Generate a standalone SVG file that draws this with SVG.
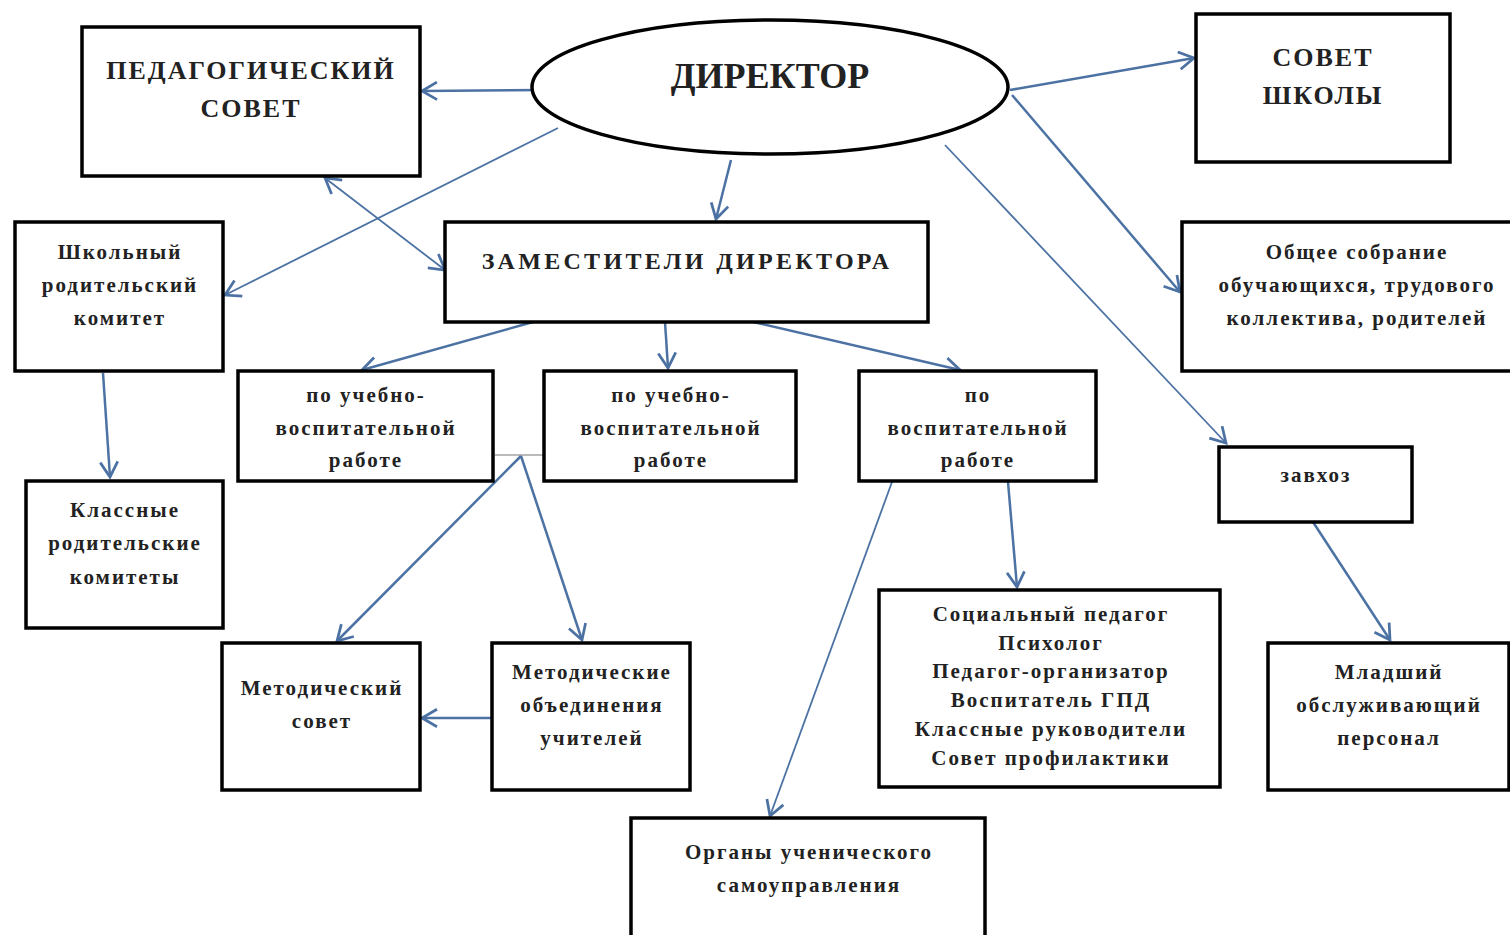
<svg xmlns="http://www.w3.org/2000/svg" width="1510" height="935" viewBox="0 0 1510 935">
<style>
.box{fill:#fff;stroke:#000;stroke-width:3.5}
.t{font-family:"Liberation Serif","DejaVu Serif",serif;font-weight:bold;font-size:21px;fill:#222;text-anchor:middle;letter-spacing:2px}
.big{font-size:26px;letter-spacing:2px}
.c{fill:none;stroke:#4c72a3;stroke-width:2.5}
.thin{stroke-width:1.8}
.grey{fill:none;stroke:#777;stroke-width:1.2}
</style>
<defs>
<marker id="a" markerUnits="userSpaceOnUse" markerWidth="20" markerHeight="20" refX="13" refY="8" orient="auto-start-reverse" viewBox="0 0 16 16">
<path d="M1,1 L13,8 L1,15" fill="none" stroke="#4c72a3" stroke-width="2.2"/>
</marker>
</defs>
<rect width="1510" height="935" fill="#fff"/>

<g id="connectors">
<line class="c" x1="545" y1="90" x2="422" y2="91" marker-end="url(#a)"/>
<line class="c thin" x1="558" y1="128" x2="225" y2="295" marker-end="url(#a)"/>
<line class="c thin" x1="325" y1="178" x2="445" y2="270" marker-start="url(#a)" marker-end="url(#a)"/>
<line class="c" x1="731" y1="160" x2="716" y2="219" marker-end="url(#a)"/>
<line class="c" x1="1010" y1="90" x2="1194" y2="58" marker-end="url(#a)"/>
<line class="c" x1="1012" y1="95" x2="1180" y2="292" marker-end="url(#a)"/>
<line class="c thin" x1="945" y1="145" x2="1226" y2="443" marker-end="url(#a)"/>
<line class="c" x1="533" y1="322" x2="362" y2="370" marker-end="url(#a)"/>
<line class="c" x1="665" y1="322" x2="668" y2="368" marker-end="url(#a)"/>
<line class="c" x1="753" y1="322" x2="960" y2="370" marker-end="url(#a)"/>
<line class="c" x1="103" y1="373" x2="110" y2="477" marker-end="url(#a)"/>
<line class="grey" x1="495" y1="455" x2="544" y2="455"/>
<line class="c" x1="521" y1="456" x2="337" y2="641" marker-end="url(#a)"/>
<line class="c" x1="521" y1="456" x2="582" y2="640" marker-end="url(#a)"/>
<line class="c" x1="492" y1="718" x2="422" y2="718" marker-end="url(#a)"/>
<line class="c thin" x1="892" y1="482" x2="770" y2="816" marker-end="url(#a)"/>
<line class="c" x1="1008" y1="482" x2="1017" y2="587" marker-end="url(#a)"/>
<line class="c" x1="1313" y1="522" x2="1390" y2="640" marker-end="url(#a)"/>
</g>

<g id="director">
<ellipse cx="770" cy="87" rx="238" ry="67" fill="#fff" stroke="#000" stroke-width="3.5"/>
<text class="t" x="770" y="88" style="font-size:36px;letter-spacing:0">ДИРЕКТОР</text>
</g>
<g id="ped-sovet">
<rect class="box" x="82" y="27" width="338" height="149"/>
<text class="t big" x="251" y="79">ПЕДАГОГИЧЕСКИЙ</text>
<text class="t big" x="251" y="117">СОВЕТ</text>
</g>
<g id="sovet-shkoly">
<rect class="box" x="1196" y="14" width="254" height="148"/>
<text class="t big" x="1323" y="66">СОВЕТ</text>
<text class="t big" x="1323" y="104">ШКОЛЫ</text>
</g>
<g id="shk-rod-komitet">
<rect class="box" x="15" y="222" width="208" height="149"/>
<text class="t" x="120" y="259">Школьный</text>
<text class="t" x="120" y="292">родительский</text>
<text class="t" x="120" y="325">комитет</text>
</g>
<g id="zamestiteli">
<rect class="box" x="445" y="222" width="483" height="100"/>
<text class="t" x="687" y="269" style="font-size:24px;letter-spacing:3.3px">ЗАМЕСТИТЕЛИ ДИРЕКТОРА</text>
</g>
<g id="obshchee-sobranie">
<rect class="box" x="1182" y="222" width="340" height="149"/>
<text class="t" x="1357" y="259">Общее собрание</text>
<text class="t" x="1357" y="292">обучающихся, трудового</text>
<text class="t" x="1357" y="325">коллектива, родителей</text>
</g>
<g id="uvr1">
<rect class="box" x="238" y="371" width="255" height="110"/>
<text class="t" x="366" y="402">по учебно-</text>
<text class="t" x="366" y="435">воспитательной</text>
<text class="t" x="366" y="467">работе</text>
</g>
<g id="uvr2">
<rect class="box" x="544" y="371" width="252" height="110"/>
<text class="t" x="671" y="402">по учебно-</text>
<text class="t" x="671" y="435">воспитательной</text>
<text class="t" x="671" y="467">работе</text>
</g>
<g id="vr">
<rect class="box" x="859" y="371" width="237" height="110"/>
<text class="t" x="978" y="402">по</text>
<text class="t" x="978" y="435">воспитательной</text>
<text class="t" x="978" y="467">работе</text>
</g>
<g id="zavhoz">
<rect class="box" x="1219" y="447" width="193" height="75"/>
<text class="t" x="1316" y="482">завхоз</text>
</g>
<g id="klassnye-komitety">
<rect class="box" x="26" y="481" width="197" height="147"/>
<text class="t" x="125" y="517">Классные</text>
<text class="t" x="125" y="550">родительские</text>
<text class="t" x="125" y="584">комитеты</text>
</g>
<g id="metod-sovet">
<rect class="box" x="222" y="643" width="198" height="147"/>
<text class="t" x="322" y="695">Методический</text>
<text class="t" x="322" y="728">совет</text>
</g>
<g id="metod-obed">
<rect class="box" x="492" y="643" width="198" height="147"/>
<text class="t" x="592" y="679">Методические</text>
<text class="t" x="592" y="712">объединения</text>
<text class="t" x="592" y="745">учителей</text>
</g>
<g id="specialisty">
<rect class="box" x="879" y="590" width="341" height="197"/>
<text class="t" x="1051" y="621">Социальный педагог</text>
<text class="t" x="1051" y="650">Психолог</text>
<text class="t" x="1051" y="678">Педагог-организатор</text>
<text class="t" x="1051" y="707">Воспитатель ГПД</text>
<text class="t" x="1051" y="736">Классные руководители</text>
<text class="t" x="1051" y="765">Совет профилактики</text>
</g>
<g id="mladshiy">
<rect class="box" x="1268" y="643" width="241" height="147"/>
<text class="t" x="1389" y="679">Младший</text>
<text class="t" x="1389" y="712">обслуживающий</text>
<text class="t" x="1389" y="745">персонал</text>
</g>
<g id="organy">
<rect class="box" x="631" y="818" width="354" height="130"/>
<text class="t" x="809" y="859">Органы ученического</text>
<text class="t" x="809" y="892">самоуправления</text>
</g>
</svg>
